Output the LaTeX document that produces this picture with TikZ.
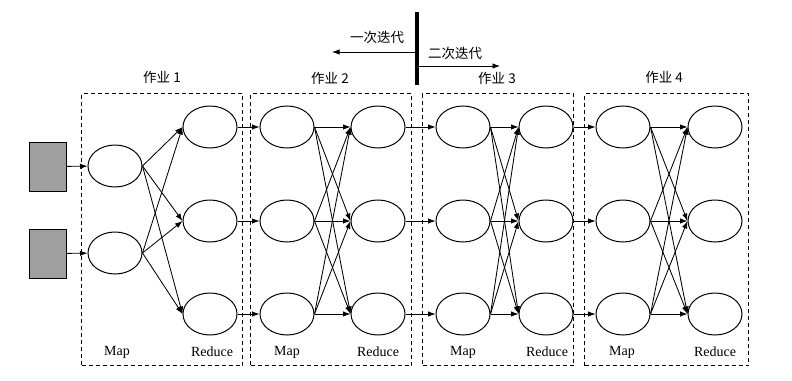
\documentclass[tikz,border=0pt]{standalone}
\usepackage{fontspec}
\setmainfont{Liberation Serif}
\newfontfamily\cjk{Noto Sans CJK SC}
\usetikzlibrary{arrows.meta,shapes.geometric}
\begin{document}
\begin{tikzpicture}[x=1pt,y=-1pt,
  oval/.style={draw,ellipse,minimum width=54pt,minimum height=42pt,inner sep=0pt,line width=1pt},
  inbox/.style={draw,fill=gray!75,minimum width=37pt,minimum height=49pt,inner sep=0pt,line width=1pt},
  jobbox/.style={draw,dash pattern=on 4pt off 3pt,line width=1pt,inner sep=0pt,anchor=north west,minimum height=272pt},
  arr/.style={-{Latex[length=7.5pt,width=5.5pt]},line width=0.85pt},
  lbl/.style={font=\fontsize{14}{16}\selectfont,inner sep=0pt},
  cjklbl/.style={font=\cjk\fontsize{13.5}{16}\selectfont,inner sep=0pt}]
\useasboundingbox[fill=white] (0,0) rectangle (792,380);
% job boxes
\node[jobbox,minimum width=161pt] (box1) at (81,93) {};
\node[jobbox,minimum width=161pt] (box2) at (250,93) {};
\node[jobbox,minimum width=151pt] (box3) at (422,93) {};
\node[jobbox,minimum width=164pt] (box4) at (584,93) {};
% titles
\node[cjklbl] (t1) at (162,77) {作业 1};
\node[cjklbl] (t2) at (330,78) {作业 2};
\node[cjklbl] (t3) at (497,78) {作业 3};
\node[cjklbl] (t4) at (664,77) {作业 4};
% job 1
\node[inbox] (in1) at (47.5,166.5) {};
\node[inbox] (in2) at (47.5,253.5) {};
\node[oval] (m-1-1) at (115,166) {};
\node[oval] (m-1-2) at (115,253) {};
\foreach \i/\y in {1/127,2/221,3/314}{
  \node[oval] (r-1-\i) at (210,\y) {};
}
\draw[arr] (in1) -- (m-1-1);
\draw[arr] (in2) -- (m-1-2);
\foreach \a in {1,2}{\foreach \b in {1,2,3}{
  \draw[arr] (m-1-\a.east) -- (r-1-\b.west);
}}
% jobs 2-4
\foreach \j/\mx/\rx in {2/287/378,3/463/546,4/623/715}{
  \foreach \i/\y in {1/127,2/221,3/314}{
    \node[oval] (m-\j-\i) at (\mx,\y) {};
    \node[oval] (r-\j-\i) at (\rx,\y) {};
  }
  \foreach \a in {1,2,3}{\foreach \b in {1,2,3}{
    \draw[arr] (m-\j-\a.east) -- (r-\j-\b.west);
  }}
}
% inter-job arrows
\foreach \p/\q in {1/2,2/3,3/4}{
  \foreach \i in {1,2,3}{
    \draw[arr] (r-\p-\i.east) -- (m-\q-\i.west);
  }
}
% Map / Reduce labels
\foreach \j/\mx/\rx in {1/117/212,2/287/378,3/463/547,4/622/715}{
  \node[lbl] (ml\j) at (\mx,352) {Map};
  \node[lbl] (rl\j) at (\rx,352) {Reduce};
}
% iteration marker
\coordinate (vt) at (417,12);
\coordinate (vb) at (417,85);
\draw[line width=3.2pt] (vt) -- (vb);
\coordinate (la) at (417,52);
\coordinate (le) at (332,52);
\coordinate (ra) at (417,66);
\coordinate (re) at (500,66);
\draw[arr] (la) -- (le);
\draw[arr] (ra) -- (re);
\node[cjklbl] (it1) at (377,37) {一次迭代};
\node[cjklbl] (it2) at (455,53) {二次迭代};
\end{tikzpicture}
\end{document}
